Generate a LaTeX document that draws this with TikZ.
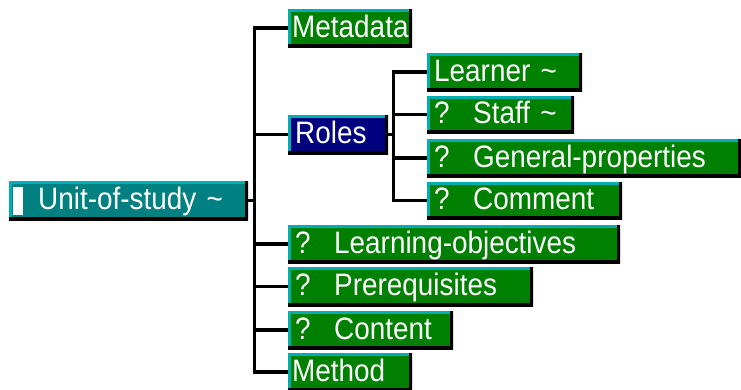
\documentclass[tikz,border=0pt]{standalone}
\usepackage{fontspec}
\setmainfont{Liberation Sans}[FakeStretch=0.9]
\usetikzlibrary{positioning}

\definecolor{boxgreen}{RGB}{0,128,0}
\definecolor{boxnavy}{RGB}{0,0,128}
\definecolor{boxteal}{RGB}{0,128,128}
\definecolor{rim}{RGB}{0,176,176}
\newcommand{\qmark}[1]{?\hspace{23.5pt}#1}

\begin{document}
\begin{tikzpicture}[x=1pt,y=-1pt,
  box/.style={rectangle,anchor=north west,fill=boxgreen,text=white,align=left,
    inner xsep=7pt,inner ysep=0pt,minimum height=38pt,text height=22pt,text depth=4pt,
    font=\fontsize{31}{35}\selectfont,
    path picture={
      \draw[rim,line width=6pt] (path picture bounding box.south west) -- (path picture bounding box.north west) -- (path picture bounding box.north east);
      \draw[black,line width=6pt] (path picture bounding box.south west) -- (path picture bounding box.south east) -- (path picture bounding box.north east);}},
  wire/.style={line width=3.5pt,to path={|- (\tikztotarget)}}]

  \useasboundingbox (0,0) rectangle (741,389);

  \node[box,fill=boxteal,inner xsep=4pt,text width=231pt,minimum height=39pt] (unit) at (9,181)
    {\rule[-5pt]{10pt}{28pt}\hspace{15pt}Unit-of-study \textasciitilde};
  \node[box,inner xsep=4pt,text width=116pt] (meta) at (288,9) {Metadata};
  \node[box,fill=boxnavy,text width=86pt,minimum height=39pt] (roles) at (288,115) {Roles};
  \node[box,text width=141pt] (learner) at (427,53) {Learner \textasciitilde};
  \node[box,text width=133pt,minimum height=37pt] (staff) at (427,96) {\qmark{Staff \textasciitilde}};
  \node[box,text width=300pt] (genprop) at (427,139) {\qmark{General-properties}};
  \node[box,text width=181pt,minimum height=37pt] (comment) at (427,182) {\qmark{Comment}};
  \node[box,text width=318pt] (learnobj) at (288,225) {\qmark{Learning-objectives}};
  \node[box,text width=231pt,minimum height=39pt] (prereq) at (288,267) {\qmark{Prerequisites}};
  \node[box,text width=151pt] (content) at (288,311) {\qmark{Content}};
  \node[box,inner xsep=4pt,text width=116pt] (method) at (288,353) {Method};

  \coordinate (hub) at ([xshift=6pt]unit.east);
  \coordinate (subhub) at ([xshift=5pt]roles.east);

  \draw[line width=3.5pt] (unit.east) -- (hub);
  \draw[line width=3.5pt] (roles.east) -- (subhub);

  \path[wire]
    (hub) edge (meta.west)
    (hub) edge (roles.west)
    (hub) edge (learnobj.west)
    (hub) edge (prereq.west)
    (hub) edge (content.west)
    (hub) edge (method.west);

  \path[wire]
    (subhub) edge (learner.west)
    (subhub) edge (staff.west)
    (subhub) edge (genprop.west)
    (subhub) edge (comment.west);
\end{tikzpicture}
\end{document}
